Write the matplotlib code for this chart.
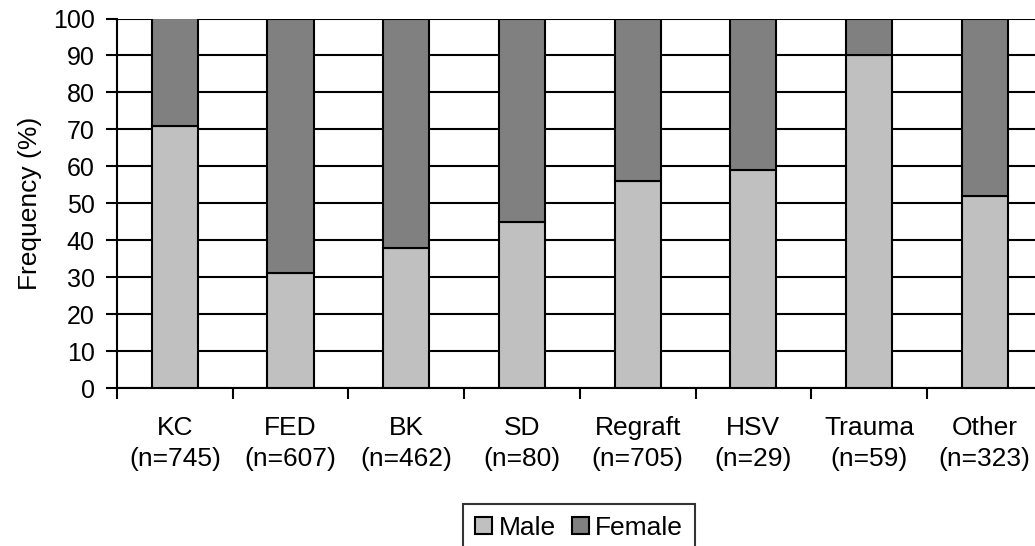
import matplotlib
matplotlib.use("Agg")
import matplotlib.pyplot as plt
import numpy as np
from matplotlib.patches import Patch

categories = ["KC", "FED", "BK", "SD", "Regraft", "HSV", "Trauma", "Other"]
counts = [745, 607, 462, 80, 705, 29, 59, 323]
male = [71, 31, 38, 45, 56, 59, 90, 52]
female = [100 - m for m in male]
yticks = list(range(0, 101, 10))

plt.rcParams['font.family'] = ['Liberation Sans', 'DejaVu Sans']
FS = 19
FSY = 18

fig = plt.figure(figsize=(10.35, 5.46), dpi=100)
W, H = 1035, 546
x0, x1 = 117, 117 + 8 * 115.7
ytop, ybot = 18.5, 388
ax = fig.add_axes([x0 / W, 1 - ybot / H, (x1 - x0) / W, (ybot - ytop) / H])

x = np.arange(len(categories))
bw = 0.4
ax.bar(x, male, bw, color="#C0C0C0", edgecolor="black", linewidth=1.5, zorder=3, label="Male")
ax.bar(x, female, bw, bottom=male, color="#808080", edgecolor="black", linewidth=1.5, zorder=3, label="Female")

ax.set_xlim(-0.5, len(categories) - 0.5)
ax.set_ylim(0, 100)
ax.set_yticks(yticks)
ax.yaxis.grid(True, color="black", linewidth=1.5, zorder=0)
ax.set_axisbelow(True)

ax.set_xticks(np.arange(-0.5, len(categories), 1.0))
ax.set_xticklabels([])
ax.set_xticks(x, minor=True)
ax.set_xticklabels([f"{c}\n(n={n})" for c, n in zip(categories, counts)], minor=True,
                   fontsize=FS, linespacing=1.38)
ax.tick_params(axis="x", which="minor", length=0, pad=20)
ax.tick_params(axis="x", which="major", length=8, width=1.5, direction="out")
ax.tick_params(axis="y", length=8, width=1.5, direction="out", labelsize=FSY, pad=8)

for s in ["top", "right"]:
    ax.spines[s].set_visible(False)
for s in ["left", "bottom"]:
    ax.spines[s].set_linewidth(1.5)
    ax.spines[s].set_color("black")

ax.set_ylabel("Frequency (%)", fontsize=FS, labelpad=8)

handles = [Patch(facecolor="#C0C0C0", edgecolor="black", linewidth=1.5),
           Patch(facecolor="#808080", edgecolor="black", linewidth=1.5)]
leg = fig.legend(handles, ["Male", "Female"], loc="upper center",
                 bbox_to_anchor=(579 / W, 1 - 504 / H), ncol=2, fontsize=FS,
                 frameon=True, fancybox=False, shadow=False,
                 handlelength=0.65, handleheight=0.65, handletextpad=0.25,
                 columnspacing=0.6, borderpad=0.45, borderaxespad=0)
leg.get_frame().set_edgecolor("black")
leg.get_frame().set_linewidth(1.5)

fig.savefig("out.png", dpi=100)
